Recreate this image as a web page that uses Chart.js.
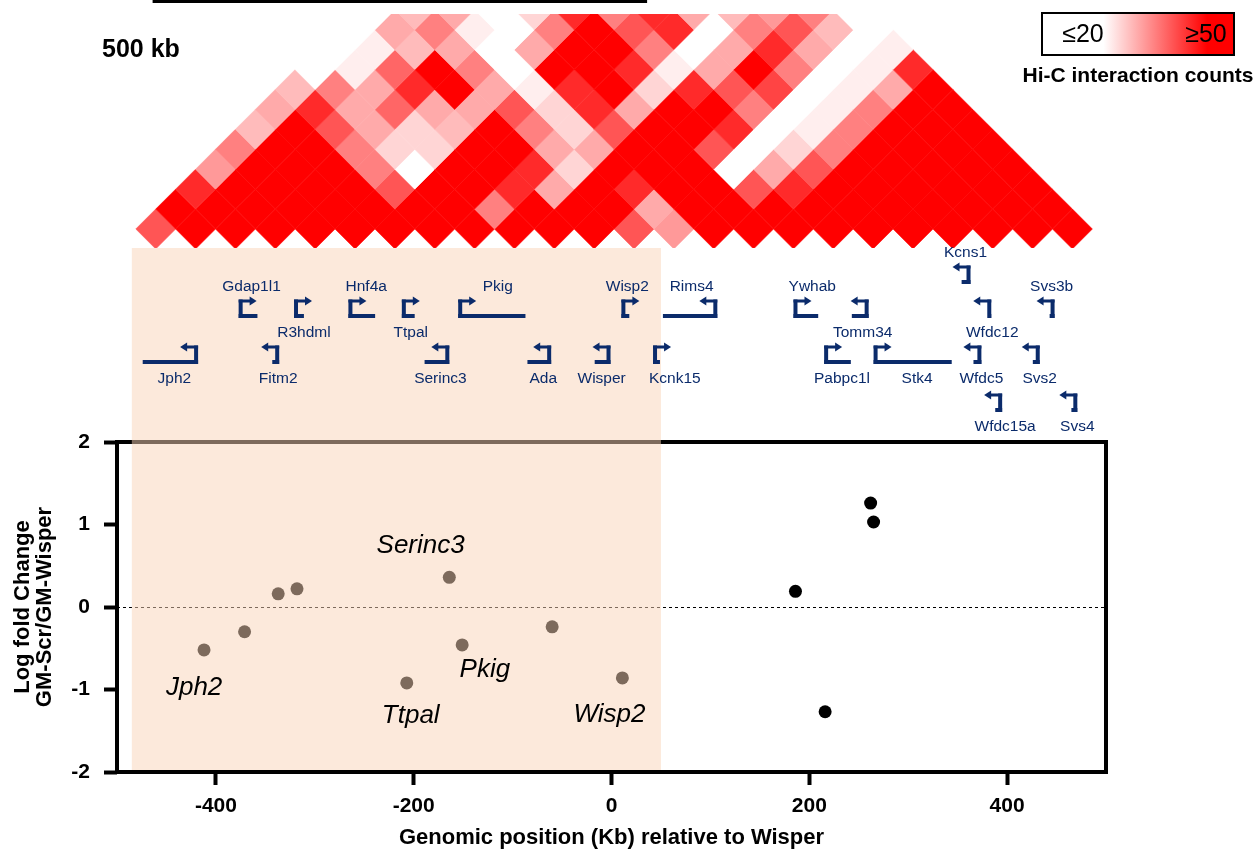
<!DOCTYPE html>
<html>
<head>
<meta charset="utf-8">
<script src="https://cdn.jsdelivr.net/npm/chart.js@4.4.1/dist/chart.umd.min.js"></script>
<style>
  html, body { margin: 0; padding: 0; background: #fff; }
  canvas { display: block; }
</style>
</head>
<body>
<canvas id="chart" width="1257" height="852"></canvas>
<script>
// ---- axis ticks ----
const xTicks = [-400, -200, 0, 200, 400];
const yTicks = [-2, -1, 0, 1, 2];

// ---- RT-qPCR log fold change per gene (x = kb relative to Wisper) ----
const tadX = [-412, -371, -337, -318, -207, -164, -151, -60, 11];
const tadY = [-0.52, -0.30, 0.16, 0.22, -0.92, 0.36, -0.46, -0.24, -0.86];
const outX = [186, 262, 265, 216];
const outY = [0.19, 1.26, 1.03, -1.27];

const pointLabels = ['Jph2', 'Serinc3', 'Ttpal', 'Pkig', 'Wisp2'];
const pointLabelX = [-422, -193, -203, -128, -2];
const pointLabelY = [-1.07, 0.66, -1.41, -0.85, -1.39];

// shaded TAD (kb)
const tadRange = [-485, 50];
const scaleBarKb = [-464, 36];

// ---- gene track ----
const geneNames  = ['Jph2', 'Fitm2', 'Gdap1l1', 'R3hdml', 'Hnf4a', 'Ttpal', 'Serinc3', 'Pkig', 'Ada', 'Wisper', 'Wisp2', 'Kcnk15', 'Rims4',
                    'Ywhab', 'Tomm34', 'Kcns1', 'Wfdc12', 'Svs3b', 'Pabpc1l', 'Stk4', 'Wfdc5', 'Svs2', 'Wfdc15a', 'Svs4'];
const geneStart  = [-474, -343, -377, -321, -266, -212, -189, -155, -85, -17, 10, 42, 52, 184, 243, 354, 381, 443, 215, 265, 366, 426, 388, 465];
const geneEnd    = [-418, -336, -358, -311, -239, -199, -164, -87, -61, -1, 18, 49, 107, 209, 260, 363, 384, 448, 242, 344, 374, 433, 395, 471];
const geneStrand = [-1, -1, 1, 1, 1, 1, -1, 1, -1, -1, 1, 1, -1, 1, -1, -1, -1, -1, 1, 1, -1, -1, -1, -1];
const geneLane   = [2, 2, 1, 1, 1, 1, 2, 1, 2, 2, 1, 2, 1, 1, 1, 0, 1, 1, 2, 2, 2, 2, 3, 3];
const geneLabelKb = [-442, -337, -364, -311, -248, -203, -173, -115, -69, -10, 16, 64, 81, 203, 254, 358, 385, 445, 233, 309, 374, 433, 398, 471];
const geneLabelSide = ['below', 'below', 'above', 'below', 'above', 'below', 'below', 'above', 'below', 'below', 'above', 'below', 'above',
                       'above', 'below', 'above', 'below', 'above', 'below', 'below', 'below', 'below', 'below', 'below'];

// ---- Hi-C counts, one row per diagonal (d = 0 .. 11), 40 kb bins ----
const hicStartKb = -481;
const hicBinKb = 40.3;
const hicMin = 20, hicMax = 50;
const hicCounts = [
  [40, 50, 50, 50, 50, 50, 50, 50, 50, 50, 50, 50, 40, 32, 50, 50, 50, 50, 50, 50, 50, 50, 50, 50],
  [50, 50, 50, 50, 50, 50, 50, 50, 35, 50, 50, 50, 30, 50, 50, 50, 50, 50, 50, 50, 50, 50, 50],
  [45, 50, 50, 50, 50, 40, 50, 50, 45, 30, 50, 45, 50, 50, 40, 45, 50, 50, 50, 50, 50, 50],
  [32, 50, 50, 50, 35, 20, 50, 50, 45, 25, 50, 50, 50, 20, 30, 40, 50, 50, 50, 50, 50],
  [35, 50, 50, 35, 25, 25, 50, 50, 30, 30, 50, 50, 40, 20, 25, 35, 50, 50, 50, 50],
  [28, 50, 40, 30, 25, 28, 50, 35, 25, 40, 50, 50, 45, 20, 22, 35, 50, 50, 50],
  [30, 45, 30, 38, 30, 30, 40, 25, 45, 30, 50, 50, 35, 20, 22, 35, 50, 50],
  [28, 35, 30, 45, 50, 30, 22, 45, 50, 25, 45, 40, 42, 20, 22, 30, 50],
  [20, 22, 38, 50, 35, 20, 50, 50, 45, 22, 30, 50, 35, 20, 22, 45],
  [20, 22, 28, 30, 20, 30, 50, 50, 35, 20, 30, 45, 30, 20, 22],
  [20, 30, 35, 22, 20, 35, 50, 40, 45, 20, 35, 40, 28, 20],
  [20, 28, 30, 20, 25, 45, 35, 45, 30, 28, 32, 35, 20]
];

const FONT = "'Liberation Sans', Arial, Helvetica, sans-serif";
const NAVY = '#0b2b6b';
const laneY = [282, 316, 362, 410];   // gene body rows (px)
const hicBaseY = 229, hicTopY = 14;

const toPoints = (xs, ys) => xs.map((x, i) => ({ x, y: ys[i] }));

const zeroLine = {
  id: 'zeroLine',
  beforeDatasetsDraw(chart) {
    const { ctx, chartArea: a, scales: { y } } = chart;
    const py = Math.round(y.getPixelForValue(0)) + 0.5;
    ctx.save();
    ctx.strokeStyle = '#000'; ctx.lineWidth = 1; ctx.setLineDash([3, 3]);
    ctx.beginPath(); ctx.moveTo(a.left, py); ctx.lineTo(a.right, py); ctx.stroke();
    ctx.restore();
  }
};

const frame = {
  id: 'frame',
  afterDatasetsDraw(chart) {
    const { ctx, chartArea: a } = chart;
    ctx.save();
    ctx.strokeStyle = '#000'; ctx.lineWidth = 4;
    ctx.strokeRect(a.left, a.top, a.right - a.left, a.bottom - a.top);
    ctx.restore();
  }
};

// translucent peach box over the Wisper TAD
const shade = {
  id: 'shade',
  afterDraw(chart) {
    const { ctx, chartArea: a, scales: { x } } = chart;
    const x0 = x.getPixelForValue(tadRange[0]), x1 = x.getPixelForValue(tadRange[1]);
    ctx.save();
    ctx.fillStyle = 'rgba(250, 212, 184, 0.5)';
    ctx.fillRect(x0, 248, x1 - x0, a.bottom - 2 - 248);
    ctx.restore();
  }
};

const hic = {
  id: 'hic',
  afterDraw(chart) {
    const { ctx, scales: { x } } = chart;
    const unit = x.getPixelForValue(hicBinKb) - x.getPixelForValue(0);
    const h = unit / 2;
    ctx.save();
    ctx.beginPath(); ctx.rect(0, hicTopY, chart.width, 248 - hicTopY); ctx.clip();
    hicCounts.forEach((row, d) => row.forEach((c, i) => {
      const cx = x.getPixelForValue(hicStartKb + hicBinKb * (2 * i + d + 1) / 2);
      const cy = hicBaseY - d * h;
      const t = Math.max(0, Math.min(1, (c - hicMin) / (hicMax - hicMin)));
      const g = Math.round(255 * (1 - t));
      ctx.fillStyle = ctx.strokeStyle = `rgb(255,${g},${g})`;
      ctx.lineWidth = 0.6;
      ctx.beginPath();
      ctx.moveTo(cx - h, cy); ctx.lineTo(cx, cy - h); ctx.lineTo(cx + h, cy); ctx.lineTo(cx, cy + h);
      ctx.closePath(); ctx.fill(); ctx.stroke();
    }));
    ctx.restore();

    // scale bar + label
    const b0 = x.getPixelForValue(scaleBarKb[0]), b1 = x.getPixelForValue(scaleBarKb[1]);
    ctx.save();
    ctx.fillStyle = '#000';
    ctx.fillRect(b0, 0, b1 - b0, 3);
    ctx.font = `bold 25px ${FONT}`;
    ctx.textAlign = 'left'; ctx.textBaseline = 'alphabetic';
    ctx.fillText('500 kb', 102, 57);

    // colour key
    const kx = 1042, ky = 13, kw = 192, kh = 42;
    const grad = ctx.createLinearGradient(kx, 0, kx + kw, 0);
    grad.addColorStop(0, '#fff'); grad.addColorStop(0.32, '#fff');
    grad.addColorStop(0.86, '#f00'); grad.addColorStop(1, '#f00');
    ctx.fillStyle = grad; ctx.fillRect(kx, ky, kw, kh);
    ctx.strokeStyle = '#000'; ctx.lineWidth = 2; ctx.strokeRect(kx, ky, kw, kh);
    ctx.fillStyle = '#000'; ctx.font = `25px ${FONT}`;
    ctx.textAlign = 'center'; ctx.textBaseline = 'middle';
    ctx.fillText('\u226420', 1083, ky + kh / 2 + 1);
    ctx.fillText('\u226550', 1206, ky + kh / 2 + 1);
    ctx.font = `bold 21px ${FONT}`; ctx.textBaseline = 'alphabetic';
    ctx.fillText('Hi-C interaction counts', 1138, 82);
    ctx.restore();
  }
};

const genes = {
  id: 'genes',
  afterDraw(chart) {
    const { ctx, scales: { x } } = chart;
    ctx.save();
    ctx.strokeStyle = NAVY; ctx.fillStyle = NAVY; ctx.lineCap = 'butt';
    geneNames.forEach((name, k) => {
      const y0 = laneY[geneLane[k]], ya = y0 - 15, s = geneStrand[k];
      const xs = x.getPixelForValue(geneStart[k]), xe = x.getPixelForValue(geneEnd[k]);
      const tss = s > 0 ? xs + 2 : xe - 2;
      ctx.lineWidth = 4;
      ctx.beginPath(); ctx.moveTo(xs, y0); ctx.lineTo(xe, y0); ctx.stroke();
      ctx.beginPath(); ctx.moveTo(tss, y0 + 2); ctx.lineTo(tss, ya - 1.5); ctx.stroke();
      ctx.lineWidth = 3;
      ctx.beginPath(); ctx.moveTo(tss - s * 2, ya); ctx.lineTo(tss + s * 10, ya); ctx.stroke();
      ctx.beginPath();
      ctx.moveTo(tss + s * 9, ya - 4.5); ctx.lineTo(tss + s * 16, ya); ctx.lineTo(tss + s * 9, ya + 4.5);
      ctx.closePath(); ctx.fill();
      ctx.font = `15.5px ${FONT}`; ctx.textAlign = 'center'; ctx.textBaseline = 'alphabetic';
      const ly = geneLabelSide[k] === 'above' ? ya - 10 : y0 + 21;
      ctx.fillText(name, x.getPixelForValue(geneLabelKb[k]), ly);
    });
    ctx.restore();
  }
};

const pointNames = {
  id: 'pointNames',
  afterDraw(chart) {
    const { ctx, scales: { x, y } } = chart;
    ctx.save();
    ctx.fillStyle = '#000'; ctx.font = `italic 26px ${FONT}`;
    ctx.textAlign = 'center'; ctx.textBaseline = 'alphabetic';
    pointLabels.forEach((t, i) => ctx.fillText(t, x.getPixelForValue(pointLabelX[i]), y.getPixelForValue(pointLabelY[i])));
    ctx.restore();
  }
};

new Chart(document.getElementById('chart'), {
  type: 'scatter',
  data: {
    datasets: [
      { label: 'TAD genes', data: toPoints(tadX, tadY), backgroundColor: '#000', borderWidth: 0, pointRadius: 6.5 },
      { label: 'Outside', data: toPoints(outX, outY), backgroundColor: '#000', borderWidth: 0, pointRadius: 6.5 }
    ]
  },
  options: {
    responsive: false, animation: false, devicePixelRatio: 1,
    layout: { padding: { top: 442, right: 151, left: 0, bottom: 0 } },
    plugins: { legend: { display: false }, tooltip: { enabled: false } },
    scales: {
      x: {
        type: 'linear', min: -500, max: 500,
        afterBuildTicks: s => { s.ticks = xTicks.map(v => ({ value: v })); },
        afterFit: s => { s.height = 80; },
        border: { display: false },
        grid: { drawOnChartArea: false, drawTicks: true, tickLength: 13, tickWidth: 4, tickColor: '#000' },
        ticks: { autoSkip: false, maxRotation: 0, color: '#000', padding: 9, font: { family: FONT, size: 21, weight: 'bold' } },
        title: { display: true, text: 'Genomic position (Kb) relative to Wisper', color: '#000',
                 font: { family: FONT, size: 22, weight: 'bold', lineHeight: 1.0 }, padding: { top: 0, bottom: 3 } }
      },
      y: {
        min: -2, max: 2,
        afterBuildTicks: s => { s.ticks = yTicks.map(v => ({ value: v })); },
        afterFit: s => { s.width = 117; },
        border: { display: false },
        grid: { drawOnChartArea: false, drawTicks: true, tickLength: 13, tickWidth: 4, tickColor: '#000' },
        ticks: { color: '#000', padding: 14, font: { family: FONT, size: 21, weight: 'bold' } },
        title: { display: true, text: ['Log fold Change', 'GM-Scr/GM-Wisper'], color: '#000',
                 font: { family: FONT, size: 22, weight: 'bold', lineHeight: 1.0 }, padding: { top: 12, bottom: 0 } }
      }
    }
  },
  plugins: [zeroLine, frame, shade, hic, genes, pointNames]
});
</script>
</body>
</html>
